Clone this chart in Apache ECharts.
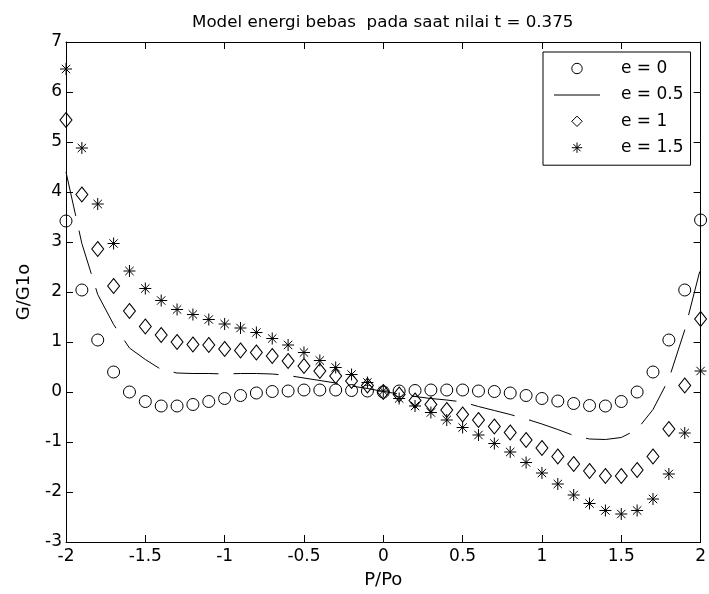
<!DOCTYPE html>
<html><head><meta charset="utf-8">
<script src="https://cdn.jsdelivr.net/npm/echarts@6/dist/echarts.min.js"></script>
<style>html,body{margin:0;padding:0;background:#fff}#c{width:709px;height:594px}</style>
</head><body><div id="c"></div>
<script>
// P/Po values
const xValues = [-2,-1.9,-1.8,-1.7,-1.6,-1.5,-1.4,-1.3,-1.2,-1.1,-1.0,-0.9,-0.8,-0.7,-0.6,-0.5,-0.4,-0.3,-0.2,-0.1,0,
  0.1,0.2,0.3,0.4,0.5,0.6,0.7,0.8,0.9,1.0,1.1,1.2,1.3,1.4,1.5,1.6,1.7,1.8,1.9,2.0];
// e = 0 (circles)
const e0 = [3.42,2.04,1.04,0.40,0.0,-0.19,-0.28,-0.28,-0.25,-0.19,-0.13,-0.07,-0.02,0.01,0.02,0.04,0.04,0.04,0.03,0.02,0.0,
  0.02,0.03,0.04,0.04,0.04,0.02,0.01,-0.02,-0.07,-0.13,-0.18,-0.23,-0.27,-0.28,-0.19,0.0,0.40,1.04,2.04,3.44];
// e = 0.5 (dashed line)
const e05 = [4.40,2.97,1.95,1.35,0.88,0.65,0.45,0.38,0.37,0.37,0.36,0.37,0.37,0.36,0.33,0.28,0.23,0.18,0.12,0.07,0.01,
  -0.04,-0.09,-0.13,-0.16,-0.20,-0.29,-0.37,-0.45,-0.54,-0.64,-0.75,-0.87,-0.94,-0.95,-0.91,-0.75,-0.35,0.26,1.24,2.48];
// e = 1 (diamonds)
const e1 = [5.44,3.95,2.86,2.12,1.62,1.31,1.14,1.0,0.95,0.94,0.86,0.83,0.79,0.72,0.62,0.52,0.42,0.32,0.22,0.13,0.0,
  -0.05,-0.17,-0.25,-0.36,-0.45,-0.56,-0.69,-0.81,-0.96,-1.12,-1.29,-1.44,-1.58,-1.68,-1.68,-1.56,-1.29,-0.74,0.13,1.46];
// e = 1.5 (asterisks)
const e15 = [6.46,4.88,3.76,2.97,2.42,2.07,1.83,1.65,1.55,1.45,1.36,1.28,1.19,1.07,0.94,0.79,0.63,0.49,0.35,0.19,0.02,
  -0.13,-0.28,-0.41,-0.56,-0.71,-0.86,-1.03,-1.20,-1.41,-1.62,-1.84,-2.06,-2.23,-2.37,-2.44,-2.37,-2.14,-1.64,-0.82,0.42];
const seriesNames = ['e = 0','e = 0.5','e = 1','e = 1.5'];
const titleText = 'Model energi bebas  pada saat nilai t = 0.375';
const xName = 'P/Po', yName = 'G/G1o';

const pairs = ys => xValues.map((x,i)=>[x, ys[i]]);
const FONT = "'DejaVu Sans', sans-serif";
const starPath = 'path://M10,0L10,20M0,10L20,10M3,3L17,17M3,17L17,3';
const markerStyle = {color:'rgba(0,0,0,0)', borderColor:'#000', borderWidth:1};
const hiddenLine = {opacity:0, width:0};

const chart = echarts.init(document.getElementById('c'), null, {renderer:'canvas'});
const axisCommon = {
  axisLine:{show:true, onZero:false, lineStyle:{color:'#000', width:1}},
  axisTick:{show:true, inside:true, length:7, lineStyle:{color:'#000'}},
  splitLine:{show:false}
};
chart.setOption({
  animation:false,
  backgroundColor:'#fff',
  title:{text:titleText, left:187, top:9,
    textStyle:{fontFamily:FONT, fontSize:16.7, fontWeight:'normal', color:'#000'}},
  grid:{left:66, right:6, top:42, bottom:51, containLabel:false},
  legend:{
    orient:'vertical', left:543, top:52,
    padding:[8,7,9,11], itemGap:9.4, itemWidth:46, itemHeight:13,
    borderColor:'#000', borderWidth:1, backgroundColor:'#fff',
    itemStyle:{color:'rgba(0,0,0,0)', borderColor:'#000', borderWidth:1},
    textStyle:{fontFamily:FONT, fontSize:17, color:'#000', lineHeight:13, padding:[0,0,0,16]},
    data:[
      {name:seriesNames[0]},
      {name:seriesNames[1], icon:'path://M0,0L46,0L46,1L0,1Z', itemStyle:{color:'#000', borderWidth:0}},
      {name:seriesNames[2]},
      {name:seriesNames[3]}
    ]
  },
  xAxis:[
    Object.assign({type:'value', min:-2, max:2, interval:0.5, position:'bottom',
      name:xName, nameLocation:'middle', nameGap:29,
      nameTextStyle:{fontFamily:FONT, fontSize:18, color:'#000'},
      axisLabel:{fontFamily:FONT, fontSize:17, color:'#000', margin:6}}, axisCommon),
    Object.assign({type:'value', min:-2, max:2, interval:0.5, position:'top',
      axisLabel:{show:false}}, axisCommon)
  ],
  yAxis:[
    Object.assign({type:'value', min:-3, max:7, interval:1, position:'left',
      name:yName, nameLocation:'middle', nameGap:33, nameRotate:90,
      nameTextStyle:{fontFamily:FONT, fontSize:18, color:'#000'},
      axisLabel:{fontFamily:FONT, fontSize:17, color:'#000', margin:4}}, axisCommon),
    Object.assign({type:'value', min:-3, max:7, interval:1, position:'right',
      axisLabel:{show:false}}, axisCommon)
  ],
  series:[
    {name:seriesNames[0], type:'line', data:pairs(e0), symbol:'circle', symbolSize:12,
      showSymbol:true, lineStyle:hiddenLine, itemStyle:markerStyle, z:3},
    {name:seriesNames[1], type:'line', data:pairs(e05), symbol:'none', showSymbol:false,
      lineStyle:{color:'#000', width:1, type:[45,15]}, itemStyle:{color:'#000'}, z:2},
    {name:seriesNames[2], type:'line', data:pairs(e1), symbol:'diamond', symbolSize:[12,15],
      showSymbol:true, lineStyle:hiddenLine, itemStyle:markerStyle, z:3},
    {name:seriesNames[3], type:'line', data:pairs(e15), symbol:starPath, symbolSize:12,
      showSymbol:true, lineStyle:hiddenLine, itemStyle:markerStyle, z:3}
  ]
});
</script></body></html>
